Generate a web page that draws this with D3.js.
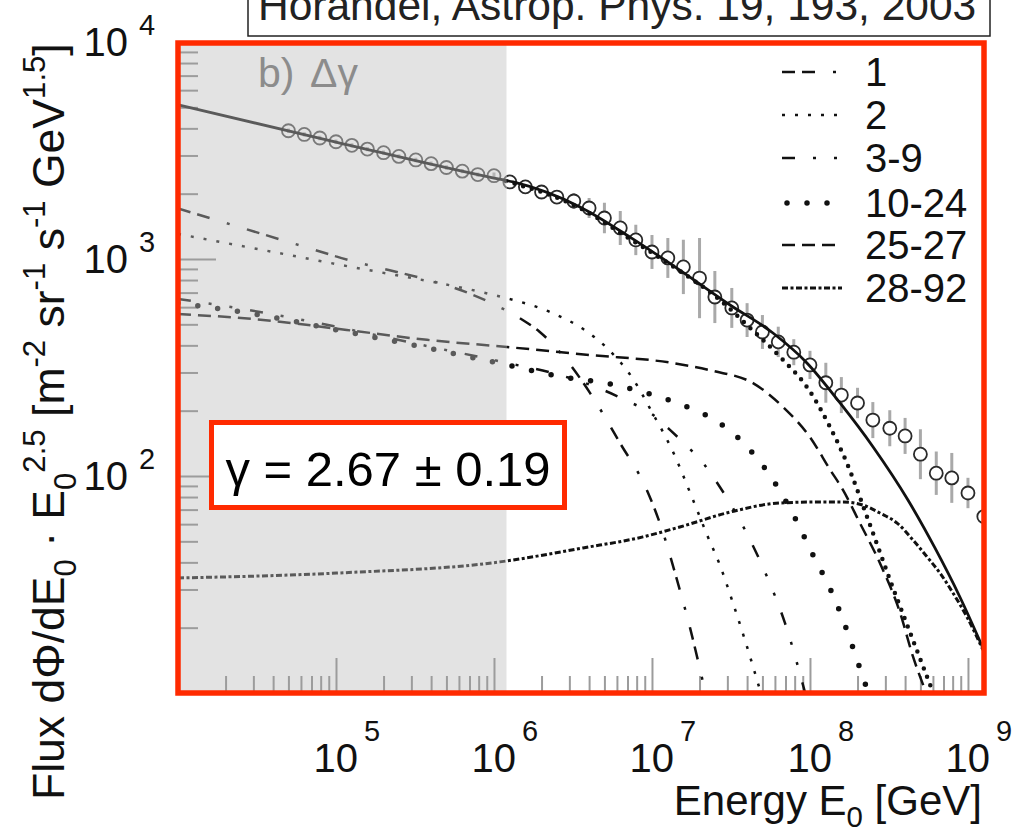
<!DOCTYPE html>
<html>
<head>
<meta charset="utf-8">
<script src="https://cdn.jsdelivr.net/npm/d3@7"></script>
<style>
  body { margin: 0; background: #fff; }
  svg { display: block; }
  text { font-family: "Liberation Sans", Arial, Helvetica, sans-serif; }
</style>
</head>
<body>
<div id="chart"></div>
<script>
// measured all-particle flux: E [GeV], E^2.5 * flux, half error bar in decades
const dataE = [5.0e4, 6.3e4, 7.9e4, 1.0e5, 1.26e5, 1.58e5, 2.0e5, 2.5e5, 3.2e5, 4.0e5, 5.0e5, 6.3e5, 7.9e5,
               1.0e6, 1.26e6, 1.58e6, 2.0e6, 2.5e6, 3.2e6, 4.0e6, 5.0e6, 6.3e6, 7.9e6,
               1.0e7, 1.26e7, 1.58e7, 2.0e7, 2.5e7, 3.2e7, 4.0e7, 5.0e7, 6.3e7, 7.9e7,
               1.0e8, 1.26e8, 1.58e8, 2.0e8, 2.5e8, 3.2e8, 4.0e8, 5.0e8, 6.3e8, 7.9e8,
               1.0e9, 1.26e9];
const dataF = [3900, 3750, 3610, 3470, 3340, 3210, 3090, 2970, 2860, 2750, 2640, 2540, 2450,
               2420, 2265, 2150, 2036, 1930, 1850, 1718, 1545, 1390, 1224,
               1077, 1011, 919, 817, 668, 595, 523, 461, 415, 372,
               325, 269, 236, 217, 181, 166, 153, 126, 103, 98,
               83.5, 65];
const dataErr = [0.01, 0.01, 0.01, 0.01, 0.01, 0.01, 0.01, 0.01, 0.01, 0.01, 0.01, 0.01, 0.01,
                 0.015, 0.02, 0.02, 0.023, 0.028, 0.037, 0.046, 0.07, 0.078, 0.07,
                 0.078, 0.092, 0.125, 0.185, 0.12, 0.092, 0.078, 0.078, 0.07, 0.06,
                 0.065, 0.092, 0.083, 0.07, 0.083, 0.083, 0.083, 0.115, 0.10, 0.115,
                 0.07, 0.092];

// model curves
const totalE = [1e4, 1e5, 1e6, 1.32e6, 3.50e6, 7.26e6, 1.50e7, 3.12e7, 5.83e7, 9.57e7, 1.55e8, 2.51e8, 4.17e8, 6.18e8, 8.89e8, 1.245e9];
const totalF = [5130, 3460, 2360, 2265, 1738, 1262, 889, 614, 456, 332, 217, 136, 77.5, 46.6, 27.7, 16.1];

const lightSumE = [1.19e6, 3.50e6, 7.26e6, 1.50e7, 2.69e7, 3.99e7, 6.75e7, 9.57e7, 1.34e8, 1.71e8, 2.30e8, 3.21e8, 4.49e8, 6.0e8];
const lightSumF = [2285, 1718, 1236, 881, 647, 497, 343, 257, 168, 115, 64.7, 33.2, 17.5, 10.1];

const z1E = [1e4, 1e5, 1e6, 1.45e6, 1.95e6, 2.81e6, 4.06e6, 6.27e6, 9.29e6, 1.16e7, 1.44e7, 1.74e7, 2.16e7];
const z1F = [1710, 1028, 618, 535, 461, 350, 241, 142, 86, 56.4, 33.2, 20.0, 10.3];

const z2E = [1e4, 1e5, 1e6, 1.26e6, 2.26e6, 3.82e6, 5.19e6, 7.59e6, 1.0e7, 1.34e7, 1.82e7, 2.26e7, 2.69e7, 3.21e7, 3.88e7, 4.83e7];
const z2F = [1304, 948, 682, 654, 570, 466, 389, 280, 197, 132, 77.5, 52.4, 38.9, 26.8, 17.5, 10.3];

const z3to9E = [1e4, 3.30e4, 9.57e4, 3.77e5, 1.14e6, 2.74e6, 5.05e6, 6.95e6, 1.0e7, 1.30e7, 1.69e7, 2.10e7, 2.69e7, 3.88e7, 5.35e7, 6.95e7, 9.29e7];
const z3to9F = [655, 570, 491, 397, 335, 289, 247, 222, 193, 163, 136, 115, 89, 56.4, 34.3, 21.0, 10.1];

const z10to24E = [1e4, 3.30e4, 9.57e4, 3.77e5, 1.14e6, 2.74e6, 5.05e6, 8.77e6, 1.57e7, 2.69e7, 4.17e7, 6.0e7, 8.04e7, 1.045e8, 1.38e8, 1.71e8, 2.07e8, 2.33e8];
const z10to24F = [627, 552, 475, 389, 328, 286, 268, 244, 212, 175, 132, 92.9, 64.0, 43.2, 28.9, 19.5, 13.0, 10.1];

const z25to27E = [1e4, 3.45e4, 1.17e5, 3.77e5, 1.21e6, 4.06e6, 1.34e7, 2.43e7, 4.36e7, 6.75e7, 1.0e8, 1.34e8, 1.62e8, 2.07e8, 2.77e8, 3.72e8, 4.49e8, 5.42e8];
const z25to27F = [558, 524, 471, 424, 393, 361, 332, 305, 268, 208, 151, 107, 86.1, 60.7, 39.7, 23.4, 14.7, 10.1];

const z28to92E = [1e4, 1.01e5, 1.09e6, 3.66e6, 8.77e6, 1.50e7, 3.12e7, 6.46e7, 1.156e8, 1.62e8, 2.16e8, 2.77e8, 3.56e8, 4.49e8, 5.51e8, 6.65e8, 8.04e8, 9.86e8, 1.245e9];
const z28to92F = [33.9, 35.7, 40.2, 46.6, 52.4, 58.2, 68.2, 75.1, 75.9, 75.9, 73.5, 67.5, 60.7, 50.7, 42.4, 35.7, 28.9, 22.4, 15.8];

const legendLabels = ["1", "2", "3-9", "10-24", "25-27", "28-92"];
const xExponents = [5, 6, 7, 8, 9];
const yExponents = [2, 3, 4];
const shadeEdgeE = 1.2e6;

const width = 1018, height = 827;
const margin = {top: 42, right: 35, bottom: 134, left: 178};
const plotW = width - margin.left - margin.right,
      plotH = height - margin.top - margin.bottom;

const x = d3.scaleLog().domain([1e4, 1.245e9]).range([0, plotW]);
const y = d3.scaleLog().domain([10, 1e4]).range([plotH, 0]);

const zip = (a, b) => a.map((v, i) => [v, b[i]]);
const components = [
  {label: "1",     pts: zip(z1E, z1F),           dash: "13,7,13,18,3,18", w: 2.5, cap: "butt"},
  {label: "2",     pts: zip(z2E, z2F),           dash: "3,10",            w: 2.5, cap: "butt"},
  {label: "3-9",   pts: zip(z3to9E, z3to9F),     dash: "13,18,3,18,3,18", w: 2.5, cap: "butt"},
  {label: "10-24", pts: zip(z10to24E, z10to24F), dash: "0,20",            w: 5.5, cap: "round"},
  {label: "25-27", pts: zip(z25to27E, z25to27F), dash: "13,7",            w: 2.5, cap: "butt"},
  {label: "28-92", pts: zip(z28to92E, z28to92F), dash: "6,2.5,3,2.5",     w: 3,   cap: "butt"}
];

const svg = d3.select("#chart").append("svg")
    .attr("width", width)
    .attr("height", height);
svg.append("rect").attr("width", width).attr("height", height).attr("fill", "#fff");

const g = svg.append("g")
    .attr("transform", `translate(${margin.left},${margin.top})`);

const shadeW = x(shadeEdgeE);
g.append("rect")
    .attr("width", shadeW)
    .attr("height", plotH)
    .attr("fill", "#e3e3e3");

// ticks, all grey, pointing into the frame
const isPow10 = v => Math.abs(Math.log10(v) - Math.round(Math.log10(v))) < 1e-6;
const tickColor = "#9c9c9c";
const xMinor = x.ticks().filter(v => !isPow10(v));
const yMinor = y.ticks().filter(v => !isPow10(v));

function styleAxis(sel) {
    sel.select(".domain").remove();
    sel.selectAll("line").attr("stroke", tickColor).attr("stroke-width", 2);
}
g.append("g").attr("transform", `translate(0,${plotH})`)
    .call(d3.axisTop(x).tickValues(xMinor).tickSize(17).tickFormat(""))
    .call(styleAxis);
g.append("g").attr("transform", `translate(0,${plotH})`)
    .call(d3.axisTop(x).tickValues(xExponents.map(p => 10 ** p)).tickSize(35).tickFormat(""))
    .call(styleAxis);
g.append("g")
    .call(d3.axisRight(y).tickValues(yMinor).tickSize(20).tickFormat(""))
    .call(styleAxis);
g.append("g")
    .call(d3.axisRight(y).tickValues(yExponents.map(p => 10 ** p)).tickSize(38).tickFormat(""))
    .call(styleAxis);

const defs = svg.append("defs");
defs.append("clipPath").attr("id", "clipDim")
  .append("rect").attr("width", shadeW).attr("height", plotH);
defs.append("clipPath").attr("id", "clipMain")
  .append("rect").attr("x", shadeW).attr("width", plotW - shadeW).attr("height", plotH);

const line = d3.line()
    .x(d => x(d[0]))
    .y(d => y(d[1]))
    .curve(d3.curveMonotoneX);

const points = dataE.map((e, i) => ({e: e, f: dataF[i], err: dataErr[i]}));

function drawMarks(layer, dim) {
    const ink = dim ? "#5a5a5a" : "#111";

    layer.selectAll(".err")
        .data(points)
      .enter().append("line")
        .attr("class", "err")
        .attr("x1", d => x(d.e)).attr("x2", d => x(d.e))
        .attr("y1", d => y(d.f * Math.pow(10, d.err)))
        .attr("y2", d => y(d.f / Math.pow(10, d.err)))
        .attr("stroke", dim ? "#b5b5b5" : "#a9a9a9")
        .attr("stroke-width", 3);

    layer.selectAll(".dot")
        .data(points)
      .enter().append("circle")
        .attr("class", "dot")
        .attr("cx", d => x(d.e))
        .attr("cy", d => y(d.f))
        .attr("r", 6.5)
        .attr("fill", dim ? "none" : "#fff")
        .attr("stroke", dim ? "#7a7a7a" : "#2a2a2a")
        .attr("stroke-width", 1.8);

    components.forEach(c => {
        layer.append("path")
            .datum(c.pts)
            .attr("d", line)
            .attr("fill", "none")
            .attr("stroke", ink)
            .attr("stroke-width", c.w)
            .attr("stroke-linecap", c.cap)
            .attr("stroke-dasharray", c.dash);
    });

    layer.append("path")
        .datum(zip(lightSumE, lightSumF))
        .attr("d", line)
        .attr("fill", "none")
        .attr("stroke", ink)
        .attr("stroke-width", 4.5)
        .attr("stroke-linecap", "round")
        .attr("stroke-dasharray", "0,9");

    layer.append("path")
        .datum(zip(totalE, totalF))
        .attr("d", line)
        .attr("fill", "none")
        .attr("stroke", ink)
        .attr("stroke-width", 2.8);
}

drawMarks(g.append("g").attr("clip-path", "url(#clipDim)"), true);
drawMarks(g.append("g").attr("clip-path", "url(#clipMain)"), false);

// text with sub/superscripts
function richText(parent, parts, size) {
    const t = parent.append("text").attr("font-size", size).attr("fill", "#111");
    let shift = 0;
    parts.forEach(([s, kind]) => {
        const target = kind === "sup" ? -0.42 * size : kind === "sub" ? 0.28 * size : 0;
        t.append("tspan")
            .attr("dy", target - shift)
            .attr("font-size", kind === "n" ? size : size * 0.7)
            .text(s);
        shift = target;
    });
    return t;
}

// legend
const legend = svg.append("g");
legendLabels.forEach((lab, i) => {
    const c = components.find(d => d.label === lab);
    const ly = [72, 115, 158, 203, 245, 288][i];
    legend.append("line")
        .attr("x1", lab === "10-24" ? 787 : 782).attr("x2", 842)
        .attr("y1", ly).attr("y2", ly)
        .attr("stroke", "#111")
        .attr("stroke-width", c.w)
        .attr("stroke-linecap", c.cap)
        .attr("stroke-dasharray", c.dash);
    legend.append("text")
        .attr("x", 865).attr("y", ly + 14)
        .attr("font-size", 40)
        .attr("fill", "#111")
        .text(lab);
});

// panel label
svg.append("text").attr("x", 258).attr("y", 87).attr("font-size", 41).attr("fill", "#8c8c8c").text("b)");
svg.append("text").attr("x", 310).attr("y", 87).attr("font-size", 41).attr("fill", "#8c8c8c").text("Δγ");

// tick labels
yExponents.forEach(p => {
    const ty = margin.top + y(10 ** p);
    svg.append("text").attr("x", 128).attr("y", ty + 14).attr("text-anchor", "end")
        .attr("font-size", 40).attr("fill", "#111").text("10");
    svg.append("text").attr("x", 139).attr("y", ty - 7)
        .attr("font-size", 29).attr("fill", "#111").text(p);
});
xExponents.forEach(p => {
    const tx = margin.left + x(10 ** p);
    svg.append("text").attr("x", tx + 22).attr("y", 772).attr("text-anchor", "end")
        .attr("font-size", 40).attr("fill", "#111").text("10");
    svg.append("text").attr("x", tx + 28).attr("y", 741)
        .attr("font-size", 29).attr("fill", "#111").text(p);
});

// axis titles
richText(svg.append("g").attr("transform", "translate(982,815)"),
    [["Energy E", "n"], ["0", "sub"], [" [GeV]", "n"]], 42)
    .attr("text-anchor", "end");

richText(svg.append("g").attr("transform", "translate(64,800) rotate(-90)"),
    [["Flux dΦ/dE", "n"], ["0", "sub"], [" · E", "n"], ["0", "sub"], ["2.5", "sup"],
     [" [m", "n"], ["-2", "sup"], [" sr", "n"], ["-1", "sup"], [" s", "n"], ["-1", "sup"],
     [" GeV", "n"], ["1.5", "sup"], ["]", "n"]], 44.5);

// red frame round the plot
svg.append("rect")
    .attr("x", margin.left).attr("y", margin.top + 1)
    .attr("width", plotW + 1).attr("height", plotH - 1)
    .attr("fill", "none")
    .attr("stroke", "#ff2a00")
    .attr("stroke-width", 5.5);

// fit result box
svg.append("rect")
    .attr("x", 211.5).attr("y", 422.5)
    .attr("width", 353).attr("height", 85)
    .attr("fill", "#fff")
    .attr("stroke", "#ff2a00")
    .attr("stroke-width", 5);
svg.append("text")
    .attr("x", 388).attr("y", 486)
    .attr("text-anchor", "middle")
    .attr("font-size", 49)
    .attr("fill", "#000")
    .text("γ = 2.67 ± 0.19");

// reference box at the top, cut by the picture edge
svg.append("rect")
    .attr("x", 248).attr("y", -4)
    .attr("width", 742).attr("height", 40)
    .attr("fill", "#fff")
    .attr("stroke", "#222")
    .attr("stroke-width", 1.5);
svg.append("text")
    .attr("x", 258).attr("y", 20)
    .attr("font-size", 42.5)
    .attr("fill", "#222")
    .text("Hörandel, Astrop. Phys. 19, 193, 2003");
</script>
</body>
</html>
